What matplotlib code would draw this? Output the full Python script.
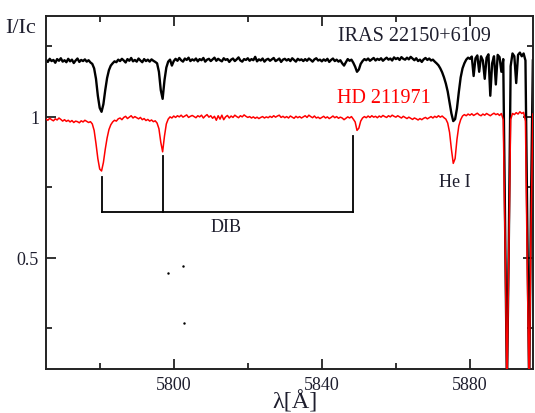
import numpy as np
import matplotlib
matplotlib.use("Agg")
import matplotlib.pyplot as plt
from matplotlib.ticker import MultipleLocator

plt.rcParams['font.family'] = ['Liberation Serif', 'DejaVu Serif']

wave = np.arange(5765.5, 5897.01, 0.5)

# IRAS 22150+6109 (offset spectrum, black)
flux_iras = [
    1.203, 1.195, 1.206, 1.198, 1.202, 1.192, 1.205, 1.199, 1.208, 1.196,
    1.201, 1.194, 1.206, 1.197, 1.203, 1.191, 1.200, 1.207, 1.195, 1.202,
    1.198, 1.204, 1.196, 1.201, 1.193, 1.188, 1.172, 1.135, 1.075, 1.032,
    1.018, 1.045, 1.095, 1.138, 1.166, 1.182, 1.190, 1.197, 1.194, 1.203,
    1.198, 1.206, 1.200, 1.193, 1.205, 1.199, 1.209, 1.197, 1.202, 1.196,
    1.207, 1.200, 1.194, 1.205, 1.198, 1.203, 1.196, 1.204, 1.199, 1.195,
    1.190, 1.160, 1.095, 1.064, 1.130, 1.175, 1.196, 1.203, 1.182, 1.198,
    1.206, 1.199, 1.209, 1.201, 1.196, 1.207, 1.202, 1.210, 1.198, 1.204,
    1.200, 1.207, 1.197, 1.205, 1.201, 1.209, 1.196, 1.203, 1.206, 1.198,
    1.204, 1.210, 1.199, 1.206, 1.201, 1.197, 1.208, 1.202, 1.205, 1.195,
    1.203, 1.207, 1.198, 1.204, 1.211, 1.200, 1.196, 1.205, 1.202, 1.208,
    1.199, 1.205, 1.201, 1.213, 1.197, 1.204, 1.200, 1.207, 1.196, 1.203,
    1.206, 1.199, 1.204, 1.209, 1.198, 1.202, 1.207, 1.195, 1.203, 1.206,
    1.200, 1.205, 1.198, 1.208, 1.202, 1.196, 1.206, 1.201, 1.204, 1.198,
    1.205, 1.199, 1.207, 1.202, 1.196, 1.204, 1.208, 1.200, 1.203, 1.197,
    1.204, 1.199, 1.206, 1.195, 1.202, 1.207, 1.198, 1.203, 1.196, 1.201,
    1.190, 1.182, 1.194, 1.205, 1.199, 1.203, 1.192, 1.178, 1.160, 1.168,
    1.188, 1.198, 1.205, 1.201, 1.207, 1.199, 1.204, 1.209, 1.200, 1.206,
    1.202, 1.208, 1.199, 1.205, 1.210, 1.203, 1.207, 1.200, 1.211, 1.205,
    1.209, 1.202, 1.212, 1.206, 1.203, 1.210, 1.204, 1.213, 1.207, 1.201,
    1.208, 1.198, 1.203, 1.195, 1.204, 1.209, 1.202, 1.207, 1.200, 1.203,
    1.196, 1.190, 1.183, 1.172, 1.158, 1.140, 1.118, 1.090, 1.052, 1.012,
    0.985, 0.992, 1.030, 1.088, 1.140, 1.172, 1.190, 1.203, 1.210, 1.206,
    1.214, 1.145, 1.208, 1.218, 1.160, 1.215, 1.200, 1.135, 1.210, 1.222,
    1.075, 1.190, 1.215, 1.115, 1.220, 1.212, 1.160, 1.205, 0.600, 0.030,
    0.550, 1.180, 1.225, 1.215, 1.120, 1.220, 1.228, 1.215, 1.225, 1.200,
    0.600, 0.030, 0.700, 1.200,
]

# HD 211971 (comparison star, red)
flux_hd = [
    0.992, 0.988, 0.995, 0.990, 0.986, 0.993, 0.989, 0.996, 0.991, 0.985,
    0.990, 0.984, 0.988, 0.982, 0.987, 0.980, 0.985, 0.983, 0.979, 0.986,
    0.982, 0.988, 0.984, 0.980, 0.983, 0.975, 0.952, 0.905, 0.852, 0.815,
    0.808, 0.838, 0.885, 0.925, 0.955, 0.972, 0.982, 0.988, 0.985, 0.993,
    0.996, 0.990, 0.998, 1.002, 0.994, 0.999, 1.004, 0.996, 1.001, 0.997,
    0.993, 0.998, 0.990, 0.994, 0.987, 0.991, 0.985, 0.989, 0.983, 0.986,
    0.978, 0.958, 0.910, 0.876, 0.932, 0.975, 0.992, 1.000, 0.996, 1.003,
    0.998, 1.004, 1.000, 1.006, 0.999, 1.003, 1.007, 0.998, 1.002, 1.005,
    1.001, 0.997, 1.004, 1.000, 1.006, 0.996, 1.003, 1.008, 0.999, 1.004,
    0.995, 1.002, 0.988, 1.004, 0.992, 1.006, 0.990, 1.000, 1.005, 0.996,
    1.003, 0.998, 1.006, 1.001, 0.997, 1.004, 1.000, 1.007, 1.002, 0.998,
    1.001, 0.996, 1.000, 0.995, 0.999, 0.994, 0.998, 1.001, 0.996, 1.000,
    0.997, 1.002, 0.998, 1.004, 0.999, 1.003, 1.006, 0.998, 1.002, 0.997,
    1.001, 0.996, 1.003, 0.999, 0.995, 1.002, 0.997, 1.001, 0.996, 1.000,
    1.004, 0.998, 1.006, 1.001, 0.997, 1.003, 0.996, 0.999, 0.994, 0.998,
    1.002, 0.996, 1.000, 0.994, 0.998, 1.003, 0.997, 1.001, 0.995, 0.999,
    0.996, 0.990, 0.995, 1.000, 0.996, 1.001, 0.992, 0.982, 0.952, 0.960,
    0.985, 0.996, 1.001, 0.997, 1.003, 0.998, 1.004, 0.999, 1.002, 0.997,
    1.003, 0.999, 1.005, 1.001, 0.998, 1.004, 1.000, 1.006, 1.002, 0.999,
    1.004, 1.000, 0.996, 1.002, 0.998, 0.994, 0.999, 0.995, 0.991, 0.996,
    0.993, 0.989, 0.994, 0.990, 0.995, 0.998, 0.993, 0.997, 1.001, 0.996,
    1.002, 0.998, 1.004, 0.999, 1.003, 0.997, 0.992, 0.978, 0.945, 0.885,
    0.835, 0.852, 0.920, 0.968, 0.990, 1.003, 1.008, 1.004, 1.010, 1.006,
    1.011, 1.005, 1.009, 1.013, 1.007, 1.004, 1.010, 1.006, 1.012, 1.008,
    1.004, 1.009, 1.013, 1.008, 1.011, 1.005, 1.012, 0.990, 0.550, 0.020,
    0.500, 0.990, 1.012, 1.008, 1.015, 1.010, 1.018, 1.012, 1.016, 0.985,
    0.450, 0.020, 0.600, 1.010,
]

# DIB marker: wavelengths, top of each leg, common base level
dib_waves = [5780.5, 5797.0, 5848.5]
dib_tops = [0.787, 0.862, 0.933]
dib_base = 0.663

# stray dots present in the figure
dots_x = [5798.4, 5802.4, 5802.7]
dots_y = [0.447, 0.472, 0.270]

txt = '#1e1e2e'

fig = plt.figure(figsize=(5.35, 4.14), dpi=100)
ax = fig.add_axes([0.086, 0.106, 0.91, 0.853])

ax.plot(wave, flux_iras, color='black', lw=1.7, zorder=2)
ax.plot(wave, flux_hd, color='red', lw=1.1, zorder=3)

# DIB bracket
for w, t in zip(dib_waves, dib_tops):
    ax.plot([w, w], [dib_base, t], color='black', lw=1.3)
ax.plot([dib_waves[0], dib_waves[-1]], [dib_base, dib_base], color='black', lw=1.3)

ax.plot(dots_x, dots_y, 'k.', ms=1.5)

ax.text(5865.0, 1.287, 'IRAS 22150+6109', color=txt, fontsize=14.5,
        ha='center', va='center')
ax.text(5844.2, 1.067, 'HD 211971', color='red', fontsize=14.5,
        ha='left', va='center')
ax.text(5876.0, 0.77, 'He I', color=txt, fontsize=13, ha='center', va='center')
ax.text(5814.0, 0.61, 'DIB', color=txt, fontsize=13, ha='center', va='center')

ax.set_xlim(5765.5, 5897.0)
ax.set_ylim(0.105, 1.358)

ax.xaxis.set_major_locator(MultipleLocator(40))
ax.xaxis.set_minor_locator(MultipleLocator(20))
ax.yaxis.set_major_locator(MultipleLocator(0.5))
ax.yaxis.set_minor_locator(MultipleLocator(0.25))
ax.tick_params(which='both', direction='in', top=True, right=True,
               labelsize=13, labelcolor=txt, width=1.3, color='#222222')
ax.tick_params(which='major', length=7.5, pad=5)
ax.tick_params(which='minor', length=4)
ax.yaxis.set_major_formatter(plt.FuncFormatter(lambda v, p: '%g' % v))
for s in ax.spines.values():
    s.set_linewidth(1.4)
    s.set_color('#222222')

fig.text(0.038, 0.932, 'I/Ic', color=txt, fontsize=16, ha='center', va='center')
fig.text(0.551, 0.002, 'λ[Å]', color=txt, fontsize=17.5, ha='center', va='bottom')

fig.savefig('out.png', dpi=100)
